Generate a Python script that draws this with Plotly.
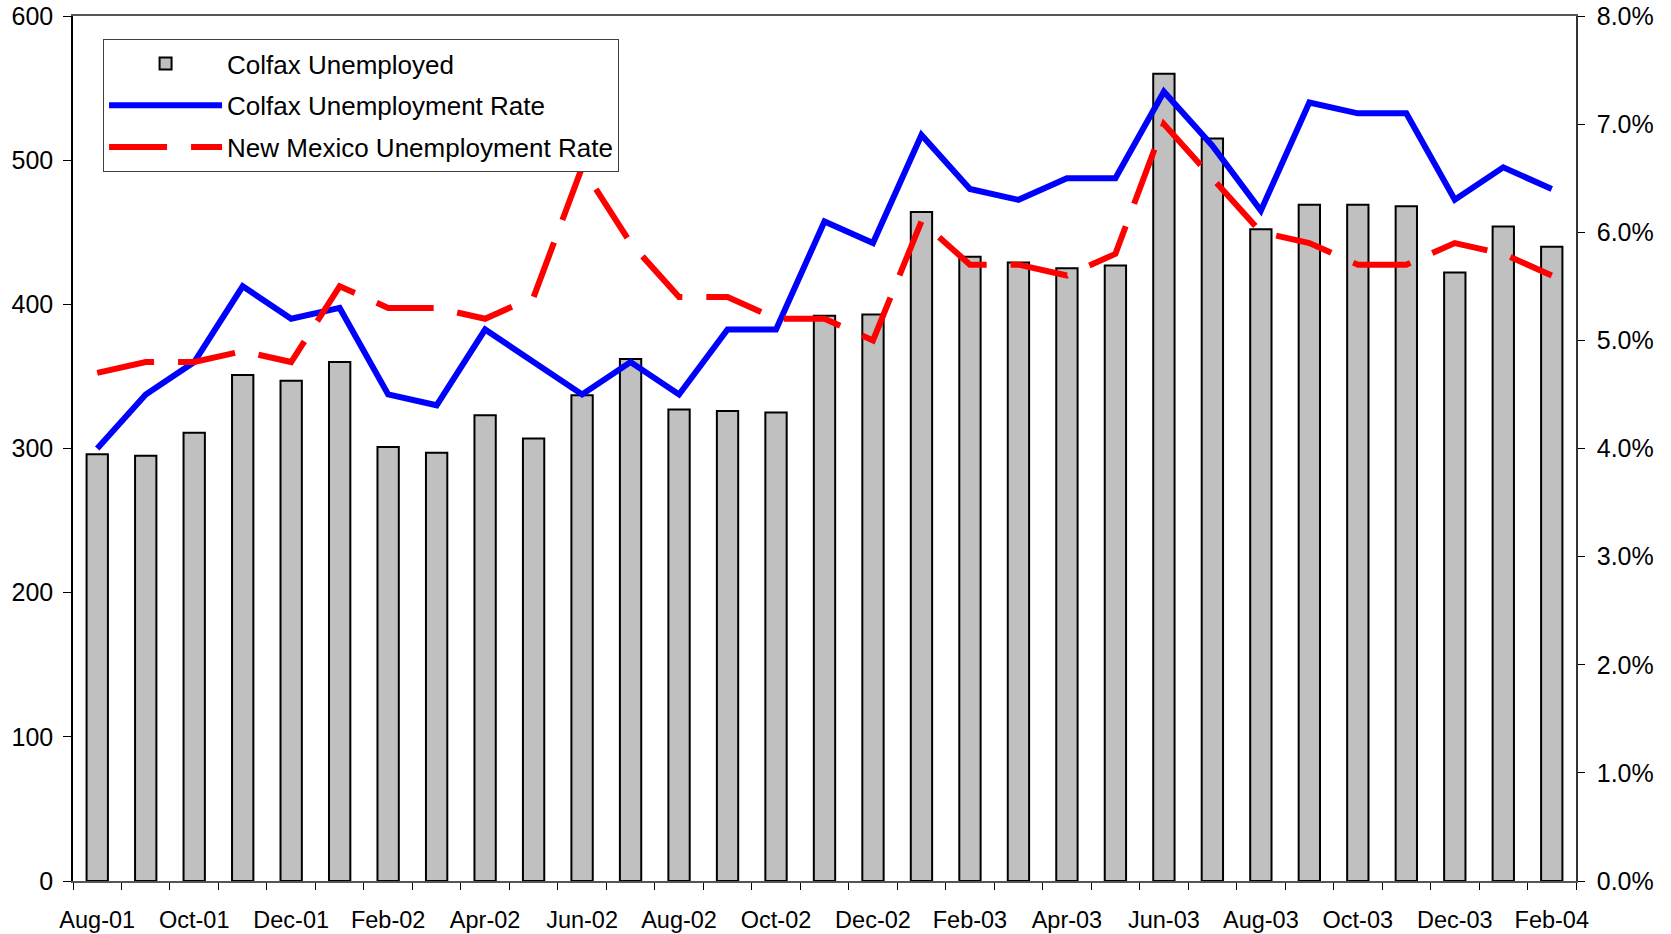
import plotly.graph_objects as go

months = ["Aug-01", "Sep-01", "Oct-01", "Nov-01", "Dec-01",
          "Jan-02", "Feb-02", "Mar-02", "Apr-02", "May-02", "Jun-02",
          "Jul-02", "Aug-02", "Sep-02", "Oct-02", "Nov-02", "Dec-02",
          "Jan-03", "Feb-03", "Mar-03", "Apr-03", "May-03", "Jun-03",
          "Jul-03", "Aug-03", "Sep-03", "Oct-03", "Nov-03", "Dec-03",
          "Jan-04", "Feb-04"]

colfax_unemployed = [296, 295, 311, 351, 347, 360, 301, 297, 323, 307, 337,
                     362, 327, 326, 325, 392, 393, 464, 433, 429, 425, 427,
                     560, 515, 452, 469, 469, 468, 422, 454, 440]

colfax_rate = [4.0, 4.5, 4.8, 5.5, 5.2, 5.3, 4.5, 4.4, 5.1, 4.8, 4.5,
               4.8, 4.5, 5.1, 5.1, 6.1, 5.9, 6.9, 6.4, 6.3, 6.5, 6.5,
               7.3, 6.8, 6.2, 7.2, 7.1, 7.1, 6.3, 6.6, 6.4]

nm_rate = [4.7, 4.8, 4.8, 4.9, 4.8, 5.5, 5.3, 5.3, 5.2, 5.4, 6.6,
           5.9, 5.4, 5.4, 5.2, 5.2, 5.0, 6.1, 5.7, 5.7, 5.6, 5.8,
           7.0, 6.5, 6.0, 5.9, 5.7, 5.7, 5.9, 5.8, 5.6]

tick_labels = [m if i % 2 == 0 else "" for i, m in enumerate(months)]
left_ticks = [0, 100, 200, 300, 400, 500, 600]
right_ticks = [0, 0.01, 0.02, 0.03, 0.04, 0.05, 0.06, 0.07, 0.08]

FONT = "Liberation Sans, Arial, sans-serif"

fig = go.Figure()
fig.add_trace(go.Bar(
    x=months, y=colfax_unemployed, name="Colfax Unemployed",
    marker=dict(color="#C0C0C0", line=dict(color="black", width=2)),
    width=0.44, legendgroup="a",
))
fig.add_trace(go.Scatter(
    x=months, y=[v / 100 for v in colfax_rate], name="Colfax Unemployment Rate",
    mode="lines", line=dict(color="#0000FF", width=6), yaxis="y2",
    legendgroup="b",
))
fig.add_trace(go.Scatter(
    x=months, y=[v / 100 for v in nm_rate], name="New Mexico Unemployment Rate",
    mode="lines", line=dict(color="#FF0000", width=6, dash="58px,24px"), yaxis="y2",
    legendgroup="c",
))

fig.update_layout(
    width=1671, height=934,
    margin=dict(l=73, r=95, t=16, b=53),
    paper_bgcolor="white", plot_bgcolor="white",
    font=dict(family=FONT, size=24, color="black"),
    showlegend=True,
    legend=dict(
        x=0.02, y=0.9734, xanchor="left", yanchor="top",
        bgcolor="white", bordercolor="#404040", borderwidth=1,
        font=dict(family=FONT, size=26, color="black"),
        itemwidth=113, tracegroupgap=5, traceorder="grouped",
    ),
    xaxis=dict(
        type="category", categoryorder="array", categoryarray=months,
        range=[-0.5, len(months) - 0.5],
        tickmode="array", tickvals=months, ticktext=tick_labels,
        tickson="boundaries", ticks="outside", ticklen=7, tickcolor="black",
        ticklabelstandoff=17,
        showline=True, linecolor="#555555", linewidth=2, mirror=True,
        showgrid=False, zeroline=False, tickangle=0, automargin=False,
        tickfont=dict(family=FONT, size=23.5),
    ),
    yaxis=dict(
        range=[0, 600], tickmode="array", tickvals=left_ticks,
        ticks="outside", ticklen=8, tickcolor="black",
        ticklabelstandoff=5,
        showline=True, linecolor="black", linewidth=1.5,
        showgrid=False, zeroline=False, automargin=False,
        tickfont=dict(family=FONT, size=25),
    ),
    yaxis2=dict(
        range=[0, 0.08], overlaying="y", side="right",
        tickmode="array", tickvals=right_ticks, tickformat=".1%",
        ticks="outside", ticklen=7, tickcolor="black",
        ticklabelstandoff=7,
        showline=True, linecolor="#333333", linewidth=1.5,
        showgrid=False, zeroline=False, automargin=False,
        tickfont=dict(family=FONT, size=25),
    ),
)

fig.write_html("out.html", config={"displayModeBar": False},
               post_script="document.body.style.margin='0';")
